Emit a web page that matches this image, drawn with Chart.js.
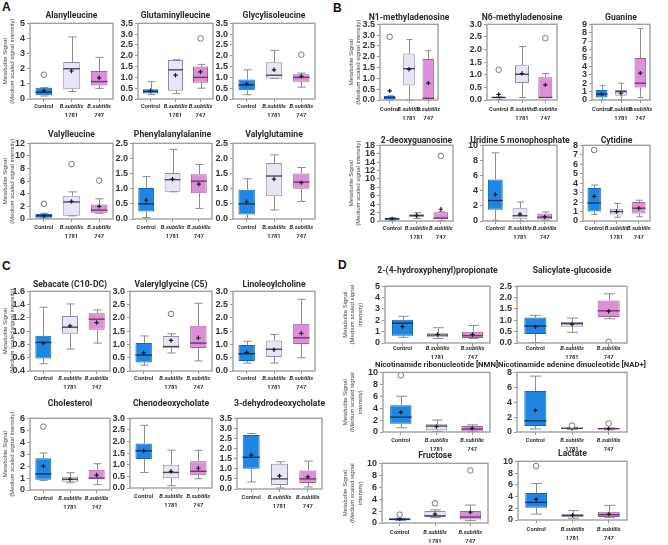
<!DOCTYPE html>
<html>
<head>
<meta charset="utf-8">
<script src="https://cdn.jsdelivr.net/npm/chart.js@4.4.0/dist/chart.umd.min.js"></script>
<style>
  body { margin: 0; background: #fff; width: 668px; height: 545px; position: relative; overflow: hidden; }
  canvas { position: absolute; }
  .panel { position: absolute; font: bold 12px 'Liberation Sans', Arial, sans-serif; color: #111; }
</style>
</head>
<body>
<div class="panel" style="left:2px;top:0px">A</div>
<div class="panel" style="left:333px;top:1px">B</div>
<div class="panel" style="left:2px;top:259px">C</div>
<div class="panel" style="left:338px;top:258px">D</div>
<script>
// groups on the x axis
const groupNames = ['Control', 'B.subtilis 1781', 'B.subtilis 747'];
const strainLine1 = ['Control', 'B.subtilis', 'B.subtilis'];
const strainLine2 = ['', '1781', '747'];

const titles = [
  'Alanylleucine', 'Glutaminylleucine', 'Glycylisoleucine',
  'Valylleucine', 'Phenylalanylalanine', 'Valylglutamine',
  'N1-methyladenosine', 'N6-methyladenosine', 'Guanine',
  '2-deoxyguanosine', 'Uridine 5 monophosphate', 'Cytidine',
  'Sebacate (C10-DC)', 'Valerylglycine (C5)', 'Linoleoylcholine',
  'Cholesterol', 'Chenodeoxycholate', '3-dehydrodeoxycholate',
  '2-(4-hydroxyphenyl)propionate', 'Salicylate-glucoside',
  'Nicotinamide ribonucleotide [NMN]', 'Nicotinamide adenine dinucleotide [NAD+]',
  'Fructose', 'Lactate'
];

// y axis ranges
const yMin  = [0, 0, 0, 0, 0, 0,   0, 0, 0, 0, 0, 0,   0.4, 0, 0, 0, 0, 0,     0, 0, 0, 0, 0, 0];
const yMax  = [5, 3.5, 3.5, 12, 2.5, 2.5,   3.5, 3, 9, 18, 10, 8,   1.6, 3, 3, 6, 3, 3.5,   5, 2.5, 10, 8, 10, 10];
const yStep = [1, 0.5, 0.5, 2, 0.5, 0.5,   0.5, 0.5, 1, 2, 2, 1,   0.2, 0.5, 0.5, 1, 0.5, 0.5,   1, 0.5, 2, 2, 2, 2];

// box statistics, one triple (Control, 1781, 747) per metabolite
const lowWhisker = [
  [0.2, 0.5, 0.7], [0.2, 0.25, 0.5], [0.2, 0.95, 0.55],
  [0.1, 0.5, 0.9], [0.05, 0.9, 0.35], [0.02, 0.3, 0.58],
  [0, 0, 0], [0.02, 0.1, 0.1], [0, 0, 0.3],
  [0.1, 0.6, 0.1], [0.1, 0, 0.1], [0.7, 0.4, 0.45],
  [0.51, 0.73, 0.82], [0.22, 0.68, 0.38], [0.3, 0.3, 0.5],
  [0.8, 0.6, 0.45], [0.67, 0.1, 0.4], [0.35, 0.05, 0.1],
  [0.5, 0.4, 0.4], [0.02, 0.47, 1.07], [0.7, 0.1, 0.1],
  [0.4, 0.35, 0.3], [0.4, 0.9, 0.4], [1.0, 0.3, 0.4]
];
const q1 = [
  [0.25, 0.65, 0.9], [0.25, 0.38, 0.75], [0.4, 0.95, 0.8],
  [0.2, 0.5, 1.0], [0.25, 0.9, 0.85], [0.15, 0.75, 1.0],
  [0.02, 0.67, 0.05], [0.1, 0.67, 0.1], [0.3, 0.5, 1.5],
  [0.3, 0.9, 0.4], [1.5, 0.3, 0.2], [1.0, 0.7, 0.8],
  [0.59, 0.96, 1.02], [0.32, 0.88, 0.87], [0.38, 0.53, 1.02],
  [0.85, 0.7, 0.9], [1.25, 0.42, 0.55], [1.0, 0.2, 0.3],
  [0.65, 0.5, 0.45], [0.4, 0.72, 1.15], [1.4, 0.3, 0.1],
  [0.8, 0.42, 0.35], [0.5, 1.0, 0.6], [2.1, 0.5, 0.5]
];
const medians = [
  [0.45, 2.0, 1.15], [0.35, 1.35, 1.0], [0.65, 1.1, 1.0],
  [0.5, 2.7, 1.4], [0.5, 1.3, 1.25], [0.5, 1.42, 1.22],
  [0.1, 1.45, 0.08], [0.1, 1.02, 0.1], [0.7, 1.0, 2.0],
  [0.5, 1.3, 0.7], [2.7, 0.7, 0.5], [1.9, 1.0, 1.35],
  [0.83, 1.06, 1.18], [0.6, 0.92, 1.05], [0.65, 0.82, 1.25],
  [1.35, 0.9, 1.0], [1.6, 0.67, 0.72], [1.57, 0.5, 0.5],
  [1.75, 0.7, 0.65], [0.75, 0.85, 1.42], [2.5, 1.0, 0.5],
  [1.5, 0.5, 0.45], [0.6, 1.2, 1.0], [3.0, 0.8, 0.9]
];
const q3 = [
  [0.75, 2.45, 1.85], [0.45, 1.8, 1.5], [0.9, 1.7, 1.15],
  [0.8, 3.7, 2.3], [1.02, 1.52, 1.48], [0.97, 1.85, 1.5],
  [0.18, 2.15, 1.9], [0.12, 1.38, 0.9], [1.2, 1.2, 5.0],
  [0.7, 1.6, 2.1], [5.5, 1.7, 1.0], [3.5, 1.3, 2.0],
  [0.93, 1.23, 1.27], [1.05, 1.32, 1.7], [0.98, 1.15, 1.78],
  [2.65, 1.1, 1.7], [1.92, 1.0, 1.15], [2.68, 1.25, 0.92],
  [2.05, 0.85, 1.0], [1.12, 0.93, 1.88], [4.5, 1.3, 1.0],
  [5.5, 0.55, 0.5], [0.8, 2.0, 2.0], [4.6, 1.0, 1.4]
];
const highWhisker = [
  [0.75, 4.1, 2.75], [0.8, 1.82, 1.6], [1.35, 2.25, 1.2],
  [0.9, 4.3, 3.2], [1.4, 2.3, 1.8], [1.33, 2.12, 1.7],
  [0.2, 2.8, 2.28], [0.12, 2.12, 1.05], [1.7, 2.0, 8.5],
  [0.8, 2.0, 2.2], [9.0, 2.5, 1.2], [3.8, 1.85, 2.2],
  [1.36, 1.41, 1.32], [1.32, 1.4, 2.55], [1.12, 1.38, 2.7],
  [3.1, 1.45, 2.2], [2.7, 1.63, 1.62], [2.75, 1.35, 1.38],
  [2.35, 1.35, 1.55], [1.22, 1.1, 2.17], [6.0, 2.0, 1.2],
  [7.5, 0.6, 0.55], [0.8, 2.2, 3.0], [6.2, 1.6, 2.5]
];
const means = [
  [0.55, 1.85, 1.4], [0.38, 1.1, 1.25], [0.7, 1.35, 1.05],
  [0.5, 2.8, 2.0], [0.62, 1.32, 1.15], [0.57, 1.32, 1.2],
  [0.42, 1.42, 0.78], [0.22, 1.05, 0.6], [0.7, 0.8, 3.2],
  [0.5, 1.3, 2.8], [3.5, 0.9, 0.55], [2.6, 1.0, 1.35],
  [0.82, 1.08, 1.13], [0.68, 1.15, 1.25], [0.7, 0.8, 1.42],
  [2.0, 0.9, 1.25], [1.6, 0.72, 0.85], [1.68, 0.65, 0.6],
  [1.45, 0.75, 0.75], [0.72, 0.82, 1.4], [3.3, 0.9, 0.6],
  [2.9, 0.5, 0.45], [0.7, 1.5, 1.8], [3.5, 0.8, 1.0]
];
// [group index, value]
const outliers = [
  [[0, 1.6]], [[2, 2.8]], [[2, 2.05]],
  [[0, 2.4], [1, 8.7], [2, 6.1]], [], [],
  [[0, 2.92]], [[0, 1.2], [2, 2.45]], [],
  [[2, 15.5]], [], [[0, 7.5]],
  [], [[1, 2.15]], [],
  [[0, 5.3]], [], [],
  [], [[2, 0.05]], [[0, 9.5]],
  [[1, 0.85], [2, 1.15]], [[0, 1.4], [1, 3.3], [2, 8.8]], [[0, 9.2]]
];

const yTitle2 = ['Metabolite Signal', '(Medium scaled signal intensity)'];
const yTitle3 = ['Metabolite Signal', '(Medium scaled signal', 'intensity)'];

// plot box in page pixels: left, top, right, bottom, title y, label gap, canvas left when the y title shows
const frames = [
  [30, 25, 113, 99, 17, 8, 2], [138, 25, 213, 99, 17, 8, null], [233, 25, 315, 99, 17, 8, null],
  [30, 145, 113, 219, 136, 9, 2], [133, 145, 212, 219, 136, 9, null], [233, 145, 315, 219, 136, 9, null],
  [380, 26, 438, 100, 19, 10, 348], [487, 26, 557, 100, 19, 10, null], [592, 26, 650, 100, 19, 10, null],
  [380, 147, 453, 221, 142, 8, 348], [483, 147, 557, 221, 142, 8, null], [583, 147, 650, 221, 142, 8, null],
  [30, 293, 110, 371, 286, 8, 2], [130, 293, 212, 371, 286, 8, null], [233, 293, 315, 371, 286, 8, null],
  [30, 420, 110, 490, 405, 9, 2], [130, 420, 212, 488, 405, 9, null], [237, 420, 322, 489, 405, 9, null],
  [385, 288, 490, 343, 272, 6, 342], [517, 288, 627, 343, 272, 6, null],
  [383, 375, 490, 432, 366, 9, 342], [517, 375, 627, 432, 366, 9, null],
  [382, 465, 488, 523, 457, 10, 342], [518, 463, 627, 520, 455, 10, null]
];

const boxFill = ['#1f87e3', '#e7e5f8', '#dc90da'];
const boxEdge = ['#1766b5', '#8e8ea2', '#9d649b'];
const medianColor = ['#0c3566', '#4a4a55', '#6e3a6c'];
const whiskerColor = '#8c8c8c';
const frameColor = '#a0a0a0';
const tickColor = '#333';
const labelFont = "Roboto, 'Liberation Sans', Arial, sans-serif";

const boxPlotPlugin = {
  id: 'boxPlot',
  beforeDatasetsDraw(chart) {
    const i = chart.options.plugins.boxPlot.index;
    const x = chart.scales.x, y = chart.scales.y;
    const meta = chart.getDatasetMeta(0);
    const ctx = chart.ctx;
    ctx.save();
    ctx.strokeStyle = whiskerColor;
    ctx.lineWidth = 1;
    groupNames.forEach((g, k) => {
      const cx = Math.round(x.getPixelForValue(k)) + 0.5;
      const cap = meta.data[k].width * 0.25;
      const lo = y.getPixelForValue(lowWhisker[i][k]);
      const hi = y.getPixelForValue(highWhisker[i][k]);
      const b1 = y.getPixelForValue(q1[i][k]);
      const b3 = y.getPixelForValue(q3[i][k]);
      ctx.beginPath();
      ctx.moveTo(cx, hi); ctx.lineTo(cx, b3);
      ctx.moveTo(cx, b1); ctx.lineTo(cx, lo);
      ctx.moveTo(cx - cap, hi); ctx.lineTo(cx + cap, hi);
      ctx.moveTo(cx - cap, lo); ctx.lineTo(cx + cap, lo);
      ctx.stroke();
    });
    ctx.restore();
  },
  afterDatasetDraw(chart, args) {
    if (args.index !== 0) return;
    const i = chart.options.plugins.boxPlot.index;
    const y = chart.scales.y;
    const meta = chart.getDatasetMeta(0);
    const ctx = chart.ctx;
    ctx.save();
    ctx.lineWidth = 1.4;
    groupNames.forEach((g, k) => {
      const bar = meta.data[k];
      const my = y.getPixelForValue(medians[i][k]);
      ctx.strokeStyle = medianColor[k];
      ctx.beginPath();
      ctx.moveTo(bar.x - bar.width / 2, my);
      ctx.lineTo(bar.x + bar.width / 2, my);
      ctx.stroke();
    });
    ctx.restore();
  },
  afterDraw(chart) {
    const { ctx, chartArea, scales } = chart;
    const gap = chart.options.plugins.boxPlot.gap;
    ctx.save();
    ctx.strokeStyle = frameColor;
    ctx.lineWidth = 1.4;
    ctx.strokeRect(chartArea.left, chartArea.top, chartArea.right - chartArea.left, chartArea.bottom - chartArea.top);
    ctx.fillStyle = tickColor;
    ctx.textAlign = 'center';
    ctx.textBaseline = 'middle';
    groupNames.forEach((g, k) => {
      const cx = scales.x.getPixelForValue(k);
      ctx.font = (k === 0 ? 'bold ' : 'italic bold ') + '5.8px ' + labelFont;
      ctx.fillText(strainLine1[k], cx, chartArea.bottom + gap);
      ctx.font = 'bold 5.8px ' + labelFont;
      ctx.fillText(strainLine2[k], cx, chartArea.bottom + gap + 9);
    });
    ctx.restore();
  }
};

function drawBoxChart(i) {
  const [pl, pt, pr, pb, ty, gap, tl] = frames[i];
  const axisW = tl === null ? 22 : pl - tl;
  const top = ty - 6;
  const bottom = pb + 26;
  const canvas = document.createElement('canvas');
  canvas.width = (pr - pl) + 2 * axisW;
  canvas.height = bottom - top;
  canvas.style.left = (pl - axisW) + 'px';
  canvas.style.top = top + 'px';
  document.body.appendChild(canvas);

  const decimals = yStep[i] % 1 ? 1 : 0;
  const longTitle = titles[i].length > 30;
  const yTitle = tl === null ? null : (i >= 18 ? yTitle3 : yTitle2);

  new Chart(canvas, {
    type: 'bar',
    data: {
      labels: groupNames,
      datasets: [
        {
          type: 'bar',
          data: groupNames.map((g, k) => [q1[i][k], q3[i][k]]),
          backgroundColor: boxFill,
          borderColor: boxEdge,
          borderWidth: 1,
          borderSkipped: false,
          barPercentage: 0.6,
          categoryPercentage: 1,
          order: 2
        },
        {
          type: 'line',
          data: means[i],
          showLine: false,
          pointStyle: 'cross',
          pointRadius: 2.2,
          pointBorderWidth: 1.2,
          pointBorderColor: '#1a1a1a',
          order: 1
        },
        {
          type: 'line',
          data: outliers[i].map(([k, v]) => ({ x: groupNames[k], y: v })),
          showLine: false,
          pointStyle: 'circle',
          pointRadius: 2.8,
          pointBorderWidth: 1,
          pointBackgroundColor: '#fff',
          pointBorderColor: '#777',
          order: 0
        }
      ]
    },
    options: {
      responsive: false,
      animation: false,
      events: [],
      layout: { padding: 0 },
      plugins: {
        legend: { display: false },
        tooltip: { enabled: false },
        title: {
          display: true,
          text: titles[i],
          color: '#2b2b2b',
          font: { family: labelFont, size: longTitle ? 7.8 : 8.6, weight: 'bold', lineHeight: 1.2 },
          padding: { top: 0, bottom: pt - top - 12 }
        },
        boxPlot: { index: i, gap: gap }
      },
      scales: {
        x: {
          type: 'category',
          offset: true,
          ticks: { display: false },
          grid: { display: true, drawOnChartArea: false, drawTicks: true, tickLength: 3, offset: false, color: '#999' },
          border: { display: false },
          afterFit: (s) => { s.height = bottom - pb; }
        },
        y: {
          min: yMin[i],
          max: yMax[i],
          ticks: {
            stepSize: yStep[i],
            autoSkip: false,
            padding: 2,
            color: tickColor,
            font: { family: "'Liberation Sans', Arial, sans-serif", size: 9, weight: 'bold' },
            callback: (v) => Number(v).toFixed(decimals)
          },
          grid: { display: true, drawOnChartArea: false, drawTicks: true, tickLength: 3, color: '#999' },
          border: { display: false },
          title: {
            display: yTitle !== null,
            text: yTitle || '',
            color: '#444',
            font: { family: "'Liberation Sans', Arial, sans-serif", size: 6, lineHeight: 1.2 },
            padding: 0
          },
          afterFit: (s) => { s.width = axisW; }
        },
        yRight: {
          position: 'right',
          display: true,
          ticks: { display: false },
          grid: { display: false },
          border: { display: false },
          afterFit: (s) => { s.width = axisW; }
        }
      }
    },
    plugins: [boxPlotPlugin]
  });
}

titles.forEach((t, i) => drawBoxChart(i));
</script>
</body>
</html>
